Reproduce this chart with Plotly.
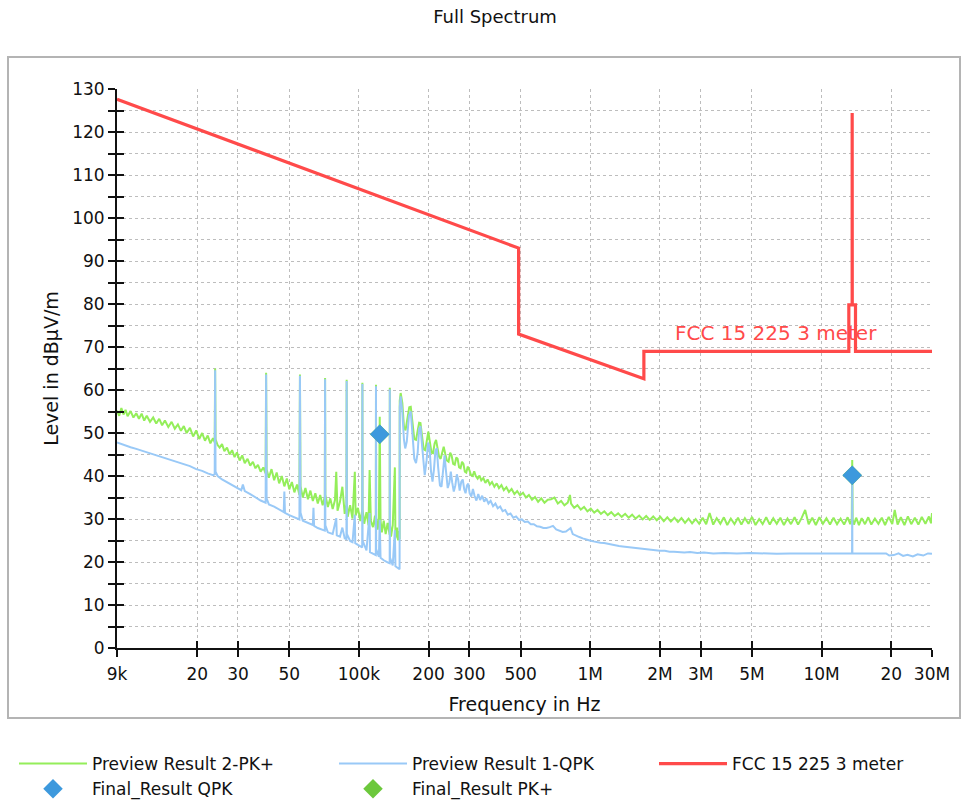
import math
import plotly.graph_objects as go

# ---------------- data ----------------
# Limit line FCC 15.225 @ 3 m (Hz, dBuV/m)
limit_freq_hz = [9e3, 490e3, 490e3, 1.705e6, 1.705e6, 13.11e6, 13.11e6, 13.553e6,
                 13.553e6, 13.567e6, 13.567e6, 14.01e6, 14.01e6, 30e6]
limit_level = [127.6, 93.0, 73.0, 62.6, 69.0, 69.0, 79.8, 79.8,
               124.4, 124.4, 79.8, 79.8, 69.0, 69.0]

# Preview Result 2-PK+ (green), frequency in kHz
pk_freq_khz = [
    9.0, 9.2, 9.4, 9.6, 9.8, 10.0, 10.3, 10.6, 10.9, 11.2,
    11.5, 11.8, 12.1, 12.5, 12.9, 13.3, 13.7, 14.1, 14.5, 15.0,
    15.5, 16.0, 16.5, 17.0, 17.5, 18.0, 18.6, 19.2, 19.8, 20.4,
    21.0, 21.6, 22.2, 22.8, 23.4, 23.8, 23.9, 24.0, 24.5, 25.0,
    25.6, 26.2, 26.9, 27.6, 28.3, 29.0, 29.7, 30.5, 31.3, 32.1,
    33.0, 33.9, 34.8, 35.7, 36.6, 37.6, 38.6, 39.5, 39.7, 39.9,
    40.8, 41.9, 43.0, 44.1, 45.2, 46.4, 47.6, 48.8, 50.0, 51.3,
    52.6, 54.0, 55.3, 55.6, 55.9, 57.2, 58.7, 60.2, 61.7, 63.2,
    64.8, 66.4, 68.0, 69.7, 71.2, 71.4, 71.6, 73.4, 75.2, 77.0,
    78.8, 79.8, 80.8, 82.8, 84.8, 86.8, 88.3, 88.5, 88.7, 89.4,
    91.6, 93.8, 96.0, 96.8, 99.0, 101.4, 103.3, 103.5, 103.7, 105.4,
    107.8, 110.0, 111.2, 112.6, 115.0, 117.4, 118.3, 118.5, 118.7, 120.5,
    122.0, 123.0, 124.0, 125.6, 128.0, 130.5, 133.0, 135.8, 136.0, 136.2,
    137.6, 140.0, 143.0, 143.8, 146.0, 147.6, 149.0, 149.9,
    150.1, 151.5, 154.0, 156.5, 159.0, 162.0, 165.0, 167.5, 170.5, 173.5,
    176.5, 179.5, 182.0, 184.5, 187.5, 190.5, 193.5, 197.0, 199.5, 202.5,
    206.0, 209.0, 212.5, 215.5, 218.5, 222.0, 225.5, 229.0, 232.5, 236.0,
    240.0, 244.0, 248.0, 251.5, 255.5, 259.5, 263.5, 267.0, 271.0, 275.0,
    279.0, 283.0, 287.0, 291.0, 295.5, 300.0, 305.0, 310.0, 315.0, 320.0,
    326, 332, 338, 345, 352, 360, 368, 376, 385, 394,
    403, 413, 423, 434, 445, 457, 470, 483, 497, 512,
    527, 543, 560, 577, 595, 614, 634, 655, 677, 700,
    724, 748, 773, 799, 817, 826, 852, 880, 910, 940,
    972, 1005, 1040, 1075, 1112, 1150, 1190, 1232, 1275, 1320,
    1367, 1415, 1465, 1517, 1571, 1627, 1685, 1745, 1807, 1871,
    1938, 2007, 2079, 2153, 2230, 2310, 2393, 2479, 2568, 2660,
    2755, 2854, 2956,
    3060, 3170, 3280, 3400, 3520, 3650, 3780, 3910, 4050, 4200,
    4350, 4500, 4660, 4830, 5000, 5180, 5370, 5560, 5760, 5970,
    6180, 6400, 6630, 6870, 7120, 7370, 7640, 7910, 8190, 8490,
    8790, 9110, 9440, 9780, 10130, 10490, 10870, 11260, 11660, 12080,
    12510, 12960, 13300, 13500, 13560, 13620, 13800, 14100, 14500, 14900,
    15400, 15900, 16400, 17000, 17600, 18200, 18800, 19500, 20200, 20700,
    21300, 22000, 22800, 23600, 24400, 25300, 26200, 27100, 28100, 29100,
    29700, 30000,
]
pk_level = [
    55.2, 54.0, 55.8, 54.3, 55.4, 53.9, 55.1, 53.6, 54.6, 53.3,
    54.5, 52.9, 54.0, 52.6, 53.6, 52.2, 53.3, 51.8, 52.9, 51.4,
    52.6, 51.0, 52.0, 50.5, 51.6, 50.0, 51.2, 49.2, 50.6, 48.6,
    50.0, 48.2, 49.4, 47.6, 48.8, 47.8, 65.0, 48.5, 47.2, 46.6,
    47.4, 45.8, 46.6, 45.0, 46.0, 44.4, 45.5, 43.6, 44.8, 43.0,
    44.0, 42.4, 43.3, 41.8, 42.6, 41.0, 42.0, 40.6, 64.0, 41.5,
    39.6, 41.6, 39.0, 40.8, 38.3, 40.0, 37.6, 39.4, 36.9, 38.6,
    36.2, 38.0, 35.6, 63.6, 37.6, 35.0, 37.2, 34.6, 36.6, 34.2,
    36.0, 33.6, 35.6, 33.2, 35.2, 62.8, 35.6, 32.8, 34.8, 32.3,
    34.4, 41.0, 31.9, 34.0, 37.5, 31.2, 33.4, 62.4, 33.7, 30.5,
    33.2, 30.1, 41.0, 30.8, 32.6, 29.5, 32.0, 61.7, 32.2, 28.9,
    31.6, 28.5, 41.4, 29.6, 28.1, 30.8, 27.9, 61.2, 30.4, 27.5,
    30.1, 53.8, 29.6, 26.9, 29.6, 26.5, 29.1, 26.3, 60.5, 28.8,
    25.9, 28.5, 42.0, 25.5, 28.0, 25.0, 27.2, 25.3,
    57.5, 59.3, 57.0, 51.5, 50.6, 53.0, 56.0, 56.1, 51.5, 48.6,
    48.4, 50.5, 52.4, 52.3, 49.0, 46.2, 46.0, 49.0, 50.3, 48.0,
    45.4, 45.3, 47.6, 48.4, 46.4, 44.5, 44.0, 45.8, 46.8, 45.2,
    43.6, 43.3, 45.4, 44.8, 42.8, 42.6, 44.3, 44.0, 42.0, 41.8,
    43.3, 42.8, 41.0, 40.8, 42.2, 41.4, 40.2, 40.0, 41.1, 40.0,
    39.4, 40.1, 39.0, 39.5, 38.4, 39.2, 38.0, 38.6, 37.5, 38.3,
    37.2, 37.9, 36.7, 37.4, 36.3, 37.0, 35.8, 36.5, 35.5, 36.1,
    35.0, 35.6, 34.5, 35.1, 34.0, 34.8, 33.8, 34.5, 34.6, 35.0,
    33.6, 34.2, 33.2, 33.8, 35.6, 33.6, 32.6, 33.2, 32.2, 32.8,
    31.8, 32.4, 31.5, 32.1, 31.2, 31.8, 30.9, 31.6, 30.7, 31.3,
    30.5, 31.2, 30.3, 31.0, 30.1, 30.8, 29.9, 30.7, 29.8, 30.6,
    29.7, 30.5, 29.5, 30.4, 29.4, 30.3, 29.3, 30.2, 29.1, 30.1,
    29.0, 30.0, 28.9,
    30.3, 28.8, 31.4, 28.7, 30.2, 28.9, 30.4, 28.6, 30.1, 28.8,
    30.3, 28.7, 30.2, 28.9, 30.5, 28.6, 30.0, 28.8, 30.4, 28.7,
    30.2, 28.9, 30.3, 28.6, 30.1, 28.8, 30.4, 28.7, 30.2, 32.1,
    28.8, 30.3, 28.6, 30.4, 28.9, 30.2, 28.7, 30.3, 28.8, 30.1,
    28.7, 30.4, 28.8, 30.0, 43.7, 29.8, 28.7, 30.3, 28.6, 30.2,
    28.8, 30.4, 28.7, 30.1, 28.9, 30.3, 28.6, 30.5, 28.8, 32.1,
    28.7, 30.4, 28.6, 30.6, 28.8, 30.3, 28.7, 30.5, 28.9, 30.6,
    29.0, 31.4,
]

# Preview Result 1-QPK (blue), frequency in kHz
qp_freq_khz = [
    9.0, 9.4, 9.8, 10.3, 10.9, 11.5, 12.1, 12.9, 13.7, 14.5,
    15.5, 16.5, 17.5, 18.6, 19.8, 21.0, 22.2, 23.4, 23.8, 23.9,
    24.0, 24.5, 25.6, 26.9, 28.3, 29.7, 31.0, 31.5, 32.1, 33.9,
    35.7, 37.6, 39.5, 39.7, 39.9, 40.8, 43.0, 45.2, 47.3, 47.6,
    47.9, 50.0, 52.6, 55.3, 55.6, 55.9, 57.2, 60.2, 63.2, 63.6,
    64.0, 66.4, 69.7, 71.2, 71.4, 71.6, 73.4, 77.0, 79.8, 80.2,
    82.8, 84.8, 86.8, 88.3, 88.5, 88.7, 91.6, 93.8, 96.0, 96.4,
    99.0, 101.4, 103.3, 103.5, 103.7, 107.8, 111.2, 111.6, 115.0, 118.3,
    118.5, 118.7, 122.0, 123.0, 124.0, 125.6, 128.0, 133.0, 135.8, 136.0,
    136.2, 140.0, 143.0, 143.8, 147.6, 149.9,
    150.1, 151.5, 154.0, 156.5, 158.5, 161.0, 164.5, 167.5, 170.5, 173.5,
    176.5, 179.5, 182.0, 184.5, 187.5, 190.5, 192.5, 196.0, 199.0, 202.0,
    205.0, 208.0, 211.0, 214.0, 217.0, 220.0, 224.0, 227.5, 231.0, 234.5,
    238.0, 242.0, 246.0, 249.5, 253.0, 257.0, 261.0, 265.0, 268.5, 272.5,
    277.0, 281.0, 285.0, 289.0, 293.0, 297.0, 301.0, 306.0, 311.0, 316.0,
    322, 328, 334, 341, 348, 355, 363, 371, 380, 389,
    398, 408, 418, 429, 440, 452, 465, 478, 492, 506,
    521, 537, 553, 570, 588, 607, 627, 647, 668, 690,
    712, 735, 760, 785, 810, 822, 840, 868, 897, 928,
    960, 995, 1030, 1068, 1107, 1148, 1190, 1235, 1282, 1330,
    1380, 1432, 1486, 1542, 1600, 1660, 1722, 1787, 1855, 1925,
    2000, 2100, 2200, 2300, 2400, 2550, 2700, 2900, 3100, 3400,
    3800, 4300, 4900, 5600, 6400, 7300, 8400, 9600, 11000, 12500,
    13400, 13540, 13560, 13580, 13700, 15000, 16500, 18000, 19000, 19600,
    20500, 21500, 22500, 23500, 24800, 26000, 27500, 28800, 30000,
]
qp_level = [
    47.8, 47.4, 47.2, 46.7, 46.3, 45.9, 45.6, 45.0, 44.6, 44.2,
    43.8, 43.3, 42.8, 42.3, 41.6, 41.2, 40.6, 40.2, 40.4, 64.6,
    41.0, 40.0, 39.2, 38.6, 38.0, 37.4, 36.7, 38.0, 36.5, 35.8,
    35.0, 34.3, 33.8, 63.6, 34.8, 33.4, 32.9, 32.2, 31.6, 36.4,
    31.4, 30.9, 30.3, 29.9, 63.3, 31.5, 29.6, 29.1, 28.6, 32.6,
    28.4, 27.9, 27.6, 27.3, 62.5, 28.5, 26.9, 26.5, 30.2, 26.2,
    25.9, 28.0, 25.5, 25.3, 62.1, 26.5, 24.9, 24.6, 31.0, 24.4,
    24.0, 23.6, 23.4, 61.4, 25.0, 22.7, 31.4, 22.3, 21.9, 21.6,
    60.9, 23.0, 21.2, 29.8, 21.0, 20.7, 20.4, 19.9, 19.7, 60.2,
    21.0, 19.2, 27.4, 19.0, 18.6, 18.3,
    56.0, 58.5, 55.0, 48.5, 46.4, 48.0, 54.0, 55.0, 49.5, 44.0,
    43.0, 45.5, 51.0, 51.6, 47.0, 41.5, 40.2, 43.5, 47.8, 46.5,
    41.0, 38.7, 41.5, 45.8, 46.5, 42.0, 37.8, 37.5, 41.5, 44.8,
    41.0, 37.2, 38.5, 41.0, 38.5, 36.4, 37.8, 40.4, 39.2, 36.6,
    38.7, 39.2, 37.0, 36.0, 37.8, 38.2, 36.0, 35.2, 37.0, 35.4,
    34.3, 35.8, 34.4, 35.4, 34.0, 34.8, 33.6, 34.2, 33.0, 33.6,
    32.5, 32.9, 31.8, 32.1, 31.0, 31.3, 30.3, 30.6, 29.8, 29.9,
    29.3, 29.4, 28.8, 28.8, 28.3, 28.2, 27.9, 27.9, 28.1, 28.4,
    27.6, 27.3, 27.0, 27.1, 27.8, 27.9, 26.5, 26.1, 25.8, 25.5,
    25.2, 25.0, 24.8, 24.6, 24.5, 24.4, 24.2, 24.1, 23.9, 23.7,
    23.6, 23.5, 23.3, 23.2, 23.1, 23.0, 22.9, 22.8, 22.7, 22.7,
    22.6, 22.6, 22.4, 22.4, 22.3, 22.2, 22.3, 22.1, 22.2, 22.0,
    22.1, 22.0, 22.1, 22.0, 21.9, 22.0, 22.0, 21.9, 22.0, 22.0,
    22.0, 22.0, 40.0, 22.0, 22.0, 22.0, 21.9, 22.0, 22.0, 21.5,
    21.6, 22.0, 21.4, 21.7, 21.3, 21.8, 21.5, 22.0, 21.9,
]

# Final results (Hz, dBuV/m)
final_qpk_freq_hz = [123000, 13.56e6]
final_qpk_level = [49.7, 40.2]
final_pk_freq_hz = [123000, 13.56e6]
final_pk_level = [49.7, 40.2]

tick_vals_hz = [9e3, 2e4, 3e4, 5e4, 1e5, 2e5, 3e5, 5e5, 1e6, 2e6, 3e6, 5e6, 1e7, 2e7, 3e7]
tick_text = ["9k", "20", "30", "50", "100k", "200", "300", "500",
             "1M", "2M", "3M", "5M", "10M", "20", "30M"]

# ---------------- styling ----------------
FONT = "DejaVu Sans"
GREEN = "#94ee5a"
BLUE = "#99c9f7"
RED = "#ff4a4a"
DIAMOND_BLUE = "#3d99dd"
DIAMOND_GREEN = "#6cc83c"
GRID = "#bdbdbd"

W, H = 967, 800
ML, MR, MT, MB = 117, 35, 89, 152
PW, PH = W - ML - MR, H - MT - MB

def px_x(px):
    return (px - ML) / PW

def px_y(py):
    return (H - MB - py) / PH

fig = go.Figure()

fig.add_trace(go.Scatter(
    x=[f * 1e3 for f in pk_freq_khz], y=pk_level, mode="lines",
    line=dict(color=GREEN, width=2), name="Preview Result 2-PK+",
    legend="legend", legendrank=1))
fig.add_trace(go.Scatter(
    x=[f * 1e3 for f in qp_freq_khz], y=qp_level, mode="lines",
    line=dict(color=BLUE, width=2), name="Preview Result 1-QPK",
    legend="legend2", legendrank=1))
fig.add_trace(go.Scatter(
    x=limit_freq_hz, y=limit_level, mode="lines",
    line=dict(color=RED, width=3.2), name="FCC 15 225 3 meter",
    legend="legend3", legendrank=1))
fig.add_trace(go.Scatter(
    x=final_pk_freq_hz, y=final_pk_level, mode="markers",
    marker=dict(symbol="diamond", size=15, color=DIAMOND_GREEN),
    name="Final_Result PK+", legend="legend2", legendrank=2))
fig.add_trace(go.Scatter(
    x=final_qpk_freq_hz, y=final_qpk_level, mode="markers",
    marker=dict(symbol="diamond", size=15, color=DIAMOND_BLUE),
    name="Final_Result QPK", legend="legend", legendrank=2))
# helper trace for the inner halves of the tick marks
fig.add_trace(go.Scatter(x=[1e5], y=[None], xaxis="x2", yaxis="y2",
                         mode="markers", showlegend=False, hoverinfo="skip"))

axis_font = dict(family=FONT, size=17, color="#111")
xr = [math.log10(9e3), math.log10(3e7)]
legend_common = dict(xanchor="left", yanchor="top", orientation="v",
                     itemwidth=68, bgcolor="rgba(0,0,0,0)",
                     font=dict(family=FONT, size=17, color="#111"),
                     traceorder="normal")

fig.update_layout(
    width=W, height=H,
    margin=dict(l=ML, r=MR, t=MT, b=MB, autoexpand=False),
    paper_bgcolor="white", plot_bgcolor="white",
    font=dict(family=FONT, color="#111"),
    title=dict(text="Full Spectrum", x=495 / W, xref="container",
               xanchor="center", y=1 - 17 / H, yanchor="middle",
               font=dict(family=FONT, size=18, color="#111")),
    xaxis=dict(type="log", range=xr, tickvals=tick_vals_hz, ticktext=tick_text,
               ticks="outside", ticklen=7, tickwidth=1.5, tickcolor="#111",
               showline=True, linecolor="#111", linewidth=2,
               showgrid=True, gridcolor=GRID, griddash="dot", gridwidth=1,
               zeroline=False, tickfont=axis_font, ticklabelstandoff=3,
               title=dict(text="Frequency in Hz", standoff=14,
                          font=dict(family=FONT, size=19, color="#111"))),
    yaxis=dict(range=[0, 130], dtick=10, tick0=0,
               ticks="outside", ticklen=7, tickwidth=1.5, tickcolor="#111",
               showline=True, linecolor="#111", linewidth=2,
               showgrid=True, gridcolor=GRID, griddash="dot", gridwidth=1,
               zeroline=False, tickfont=axis_font,
               minor=dict(dtick=5, tick0=0, ticks="outside", ticklen=7,
                          tickwidth=1.5, tickcolor="#111", showgrid=True,
                          gridcolor=GRID, griddash="dot", gridwidth=1),
               title=dict(text="Level in dBµV/m", standoff=8,
                          font=dict(family=FONT, size=19, color="#111"))),
    xaxis2=dict(type="log", range=xr, overlaying="x", anchor="y2",
                tickvals=tick_vals_hz, showticklabels=False,
                ticks="inside", ticklen=7, tickwidth=1.5, tickcolor="#111",
                showgrid=False, showline=False, zeroline=False),
    yaxis2=dict(range=[0, 130], overlaying="y", anchor="x2", dtick=10, tick0=0,
                showticklabels=False, ticks="inside", ticklen=7, tickwidth=1.5,
                tickcolor="#111", showgrid=False, showline=False, zeroline=False,
                minor=dict(dtick=5, tick0=0, ticks="inside", ticklen=7,
                           tickwidth=1.5, tickcolor="#111", showgrid=False)),
    legend=dict(x=px_x(14), y=px_y(746), **legend_common),
    legend2=dict(x=px_x(334), y=px_y(746), **legend_common),
    legend3=dict(x=px_x(654), y=px_y(746), **legend_common),
    showlegend=True,
)

# outer chart frame
fig.add_shape(type="rect", xref="paper", yref="paper", layer="below",
              x0=px_x(8), x1=px_x(960), y0=px_y(718), y1=px_y(57),
              line=dict(color="#b4b4b4", width=2), fillcolor="rgba(0,0,0,0)")

# limit line label
fig.add_annotation(x=math.log10(2.28e6), y=73.3, xref="x", yref="y",
                   text="FCC 15 225 3 meter", showarrow=False,
                   xanchor="left", yanchor="middle",
                   font=dict(family=FONT, size=20, color=RED))

fig.write_html("out.html")
